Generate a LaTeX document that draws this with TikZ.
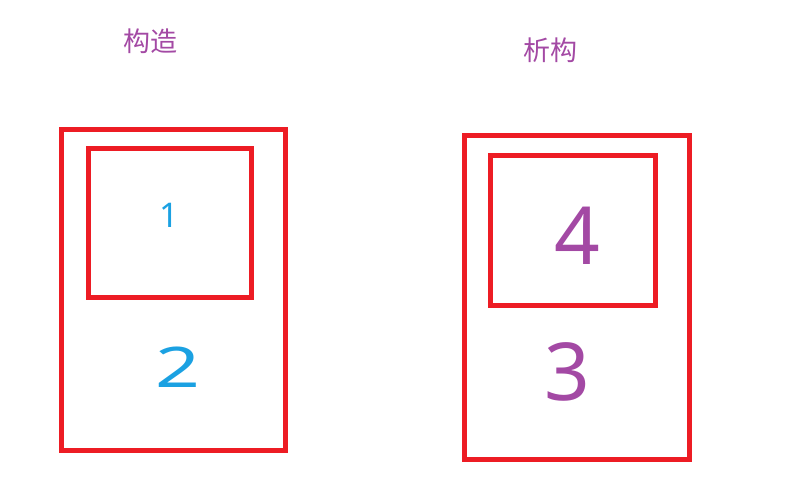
\documentclass[tikz,border=0pt]{standalone}
\usepackage{fontspec}
\setmainfont{Noto Sans}
\newfontfamily\cjk{Noto Sans CJK SC}
\definecolor{boxred}{HTML}{ED1C24}
\definecolor{titlepurple}{HTML}{A349A4}
\definecolor{numblue}{HTML}{1BA1E2}
\begin{document}
\begin{tikzpicture}[x=1pt,y=-1pt,
  frame/.style={draw=boxred,line width=5pt},
  title/.style={text=titlepurple,font=\cjk\fontsize{27}{27}\selectfont,inner sep=0pt},
  digit/.style={inner sep=0pt}]
\useasboundingbox (0,0) rectangle (795,488);
\draw[frame] (61.5,129.5) rectangle (285.5,450.5);
\draw[frame] (88.5,148.5) rectangle (251.5,297.5);
\draw[frame] (464.5,135.5) rectangle (689.5,459.5);
\draw[frame] (490.5,155.5) rectangle (655.5,305.5);
\node[title] (t1) at (150,41) {构造};
\node[title] (t2) at (550,50) {析构};
\node[digit,text=numblue,font=\fontsize{34}{34}\selectfont] (n1) at (169,215) {1};
\node[digit,text=numblue,font=\fontsize{56}{56}\selectfont,xscale=1.4] (n2) at (178,367) {2};
\node[digit,text=titlepurple,font=\fontsize{80}{80}\selectfont] (n4) at (577,236) {4};
\node[digit,text=titlepurple,font=\fontsize{80}{80}\selectfont] (n3) at (567,372) {3};
\end{tikzpicture}
\end{document}
